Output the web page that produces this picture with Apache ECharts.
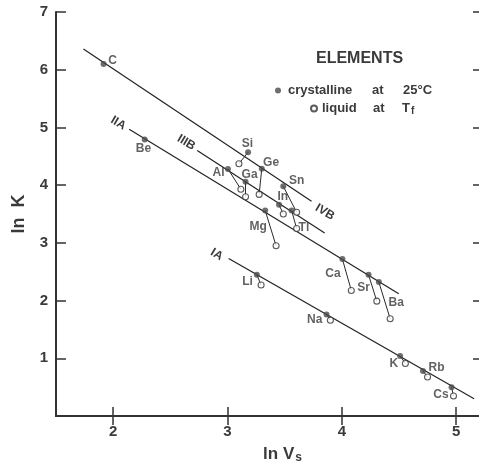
<!DOCTYPE html>
<html>
<head>
<meta charset="utf-8">
<script src="https://cdn.jsdelivr.net/npm/echarts@6/dist/echarts.min.js"></script>
<style>
  html, body { margin: 0; padding: 0; background: #fff; }
  #chart { width: 479px; height: 469px; }
</style>
</head>
<body>
<div id="chart"></div>
<script>
// Element symbols and their (ln Vs, ln K) coordinates
const elements = ['C', 'Si', 'Ge', 'Sn', 'Al', 'Ga', 'In', 'Tl', 'Be', 'Mg', 'Ca', 'Sr', 'Ba', 'Li', 'Na', 'K', 'Rb', 'Cs'];
const crystalX = [1.916, 3.18, 3.30, 3.488, 3.004, 3.158, 3.451, 3.561, 2.276, 3.33, 4.005, 4.234, 4.324, 3.257, 3.866, 4.51, 4.71, 4.96];
const crystalY = [6.10, 4.57, 4.285, 3.98, 4.28, 4.06, 3.66, 3.56, 4.79, 3.56, 2.72, 2.446, 2.32, 2.446, 1.76, 1.04, 0.78, 0.50];
const liquidX = [null, 3.10, 3.277, 3.605, 3.117, 3.158, 3.488, 3.605, null, 3.425, 4.083, 4.306, 4.423, 3.294, 3.90, 4.556, 4.75, 4.977];
const liquidY = [null, 4.37, 3.84, 3.53, 3.93, 3.80, 3.50, 3.25, null, 2.95, 2.175, 1.99, 1.685, 2.27, 1.66, 0.91, 0.675, 0.346];

// Periodic-group trend lines: start and end points
const groupNames = ['IVB', 'IIIB', 'IIA', 'IA'];
const groupStartX = [1.74, 2.735, 2.14, 3.01];
const groupStartY = [6.36, 4.60, 4.97, 2.73];
const groupEndX = [3.735, 3.85, 4.498, 5.157];
const groupEndY = [3.72, 3.17, 2.12, 0.30];

// Axis ticks
const xTicks = [2, 3, 4, 5];
const yTicks = [0, 1, 2, 3, 4, 5, 6, 7];

const INK = '#3a3a3a';
const FONT = "'Liberation Sans', Arial, Helvetica, sans-serif";
const DOT = 6;

// label placement for each element symbol (pixel offset from the filled dot centre)
const labelOffset = {
  C: [9, -3], Si: [-0.6, -8.7], Ge: [9.3, -6.3], Sn: [13.4, -5.7], Al: [-9.4, 3.7],
  Ga: [4, -7], In: [3.7, -8], Tl: [12.3, 17.6], Be: [-1.3, 9], Mg: [-7, 16],
  Ca: [-9.4, 14.7], Sr: [-5, 12.4], Ba: [17.4, 20.6], Li: [-9.4, 7], Na: [-11.7, 5.7],
  K: [-6.4, 7.3], Rb: [13.6, -3.4], Cs: [-10.6, 7.3]
};
// group label placement: which end of the line, and offset in the rotated label frame
const groupLabelPlace = {
  IVB: { end: 1, offset: [17, 2.4] },
  IIIB: { end: 0, offset: [-13.5, -1.2] },
  IIA: { end: 0, offset: [-12.5, 0.5] },
  IA: { end: 0, offset: [-12.3, 2.7] }
};

const crystalData = elements.map((name, i) => ({
  value: [crystalX[i], crystalY[i]],
  name: name,
  label: {
    show: true,
    position: [DOT / 2 + labelOffset[name][0], DOT / 2 + labelOffset[name][1]],
    align: 'center',
    verticalAlign: 'middle',
    formatter: name
  }
}));

const liquidData = elements
  .map((name, i) => liquidX[i] == null ? null : { value: [liquidX[i], liquidY[i]], name: name })
  .filter(d => d);

const connectorData = elements
  .map((name, i) => liquidX[i] == null ? null : { coords: [[crystalX[i], crystalY[i]], [liquidX[i], liquidY[i]]] })
  .filter(d => d);

const groupSeries = groupNames.map((g, i) => {
  const place = groupLabelPlace[g];
  const pts = [[groupStartX[i], groupStartY[i]], [groupEndX[i], groupEndY[i]]];
  return {
    type: 'line',
    name: g,
    z: 2,
    silent: true,
    symbol: 'circle',
    symbolSize: 0.1,
    showSymbol: true,
    lineStyle: { color: '#222', width: 1.2 },
    itemStyle: { color: 'transparent' },
    data: pts.map((p, k) => ({
      value: p,
      label: k === place.end ? {
        show: true,
        position: 'inside',
        offset: place.offset,
        rotate: -31,
        formatter: g,
        fontFamily: FONT,
        fontSize: 12,
        fontWeight: 'bold',
        color: INK
      } : { show: false }
    }))
  };
});

const tickLabelStyle = { fontFamily: FONT, fontSize: 15, fontWeight: 'bold', color: INK };
const axisLineStyle = { color: '#333', width: 2 };
const tickStyle = { color: '#333', width: 1.5 };

const chart = echarts.init(document.getElementById('chart'), null, { renderer: 'canvas' });
chart.setOption({
  backgroundColor: '#ffffff',
  animation: false,
  textStyle: { fontFamily: FONT },
  title: {
    text: 'ELEMENTS',
    left: 316,
    top: 51,
    padding: 0,
    textStyle: { fontFamily: FONT, fontSize: 16, fontWeight: 'bold', color: INK }
  },
  legend: [
    {
      data: ['crystalline'],
      left: 275,
      top: 84,
      padding: 0,
      icon: 'circle',
      itemWidth: 6,
      itemHeight: 6,
      selectedMode: false,
      formatter: () => '{a|crystalline}{b|at}{c|25°C}',
      textStyle: {
        color: INK,
        rich: {
          a: { fontFamily: FONT, fontSize: 13, fontWeight: 'bold', color: INK, width: 84, padding: [0, 0, 0, 2] },
          b: { fontFamily: FONT, fontSize: 13, fontWeight: 'bold', color: INK, width: 31 },
          c: { fontFamily: FONT, fontSize: 13, fontWeight: 'bold', color: INK }
        }
      }
    },
    {
      data: ['liquid'],
      left: 310,
      top: 102,
      padding: 0,
      icon: 'circle',
      itemWidth: 6,
      itemHeight: 6,
      selectedMode: false,
      formatter: () => '{a|liquid}{b|at}{c|T}{f|f}',
      textStyle: {
        color: INK,
        rich: {
          a: { fontFamily: FONT, fontSize: 13, fontWeight: 'bold', color: INK, width: 51 },
          b: { fontFamily: FONT, fontSize: 13, fontWeight: 'bold', color: INK, width: 29 },
          c: { fontFamily: FONT, fontSize: 13, fontWeight: 'bold', color: INK },
          f: { fontFamily: FONT, fontSize: 10, fontWeight: 'bold', color: INK, verticalAlign: 'bottom', padding: [5, 0, 0, 1] }
        }
      }
    }
  ],
  grid: { left: 56, right: 0, top: 12, bottom: 52, containLabel: false },
  xAxis: [
    {
      type: 'value',
      min: 1.5,
      max: 5.2,
      position: 'bottom',
      name: '{a|ln V}{s|s}',
      nameLocation: 'middle',
      nameGap: 29,
      nameTextStyle: {
        padding: [0, 0, 0, 30],
        rich: {
          a: { fontFamily: FONT, fontSize: 17, fontWeight: 'bold', color: INK },
          s: { fontFamily: FONT, fontSize: 12, fontWeight: 'bold', color: INK, verticalAlign: 'bottom', padding: [7, 0, 0, 1] }
        }
      },
      axisLine: { show: true, lineStyle: axisLineStyle },
      axisTick: { show: true, inside: true, length: 9, lineStyle: tickStyle, customValues: xTicks },
      axisLabel: Object.assign({ margin: 8, customValues: xTicks }, tickLabelStyle),
      splitLine: { show: false }
    },
    {
      type: 'value',
      min: 1.5,
      max: 5.2,
      position: 'top',
      axisLine: { show: true, lineStyle: axisLineStyle },
      axisTick: { show: true, inside: true, length: 9, lineStyle: tickStyle, customValues: xTicks },
      axisLabel: { show: false },
      splitLine: { show: false }
    }
  ],
  yAxis: [
    {
      type: 'value',
      min: 0,
      max: 7,
      position: 'left',
      name: 'ln  K',
      nameLocation: 'middle',
      nameGap: 28,
      nameTextStyle: { fontFamily: FONT, fontSize: 18, fontWeight: 'bold', color: INK },
      axisLine: { show: true, lineStyle: axisLineStyle },
      axisTick: { show: true, inside: true, length: 10, lineStyle: tickStyle, customValues: yTicks },
      axisLabel: Object.assign({
        margin: 8,
        customValues: yTicks,
        formatter: v => (v === 0 ? '' : String(v))
      }, tickLabelStyle),
      splitLine: { show: false }
    },
    {
      type: 'value',
      min: 0,
      max: 7,
      position: 'right',
      axisLine: { show: false },
      axisTick: { show: true, inside: true, length: 6, lineStyle: tickStyle, customValues: yTicks },
      axisLabel: { show: false },
      splitLine: { show: false }
    }
  ],
  series: [
    ...groupSeries,
    {
      type: 'lines',
      name: 'melting',
      coordinateSystem: 'cartesian2d',
      z: 3,
      silent: true,
      lineStyle: { color: '#2a2a2a', width: 1, opacity: 1 },
      data: connectorData
    },
    {
      type: 'scatter',
      name: 'liquid',
      z: 4,
      symbol: 'circle',
      symbolSize: DOT,
      itemStyle: { color: '#ffffff', borderColor: '#333', borderWidth: 1.1 },
      data: liquidData
    },
    {
      type: 'scatter',
      name: 'crystalline',
      z: 5,
      symbol: 'circle',
      symbolSize: DOT,
      itemStyle: { color: '#4a4a4a' },
      label: { fontFamily: FONT, fontSize: 12, fontWeight: 'bold', color: INK },
      data: crystalData
    }
  ]
});
</script>
</body>
</html>
